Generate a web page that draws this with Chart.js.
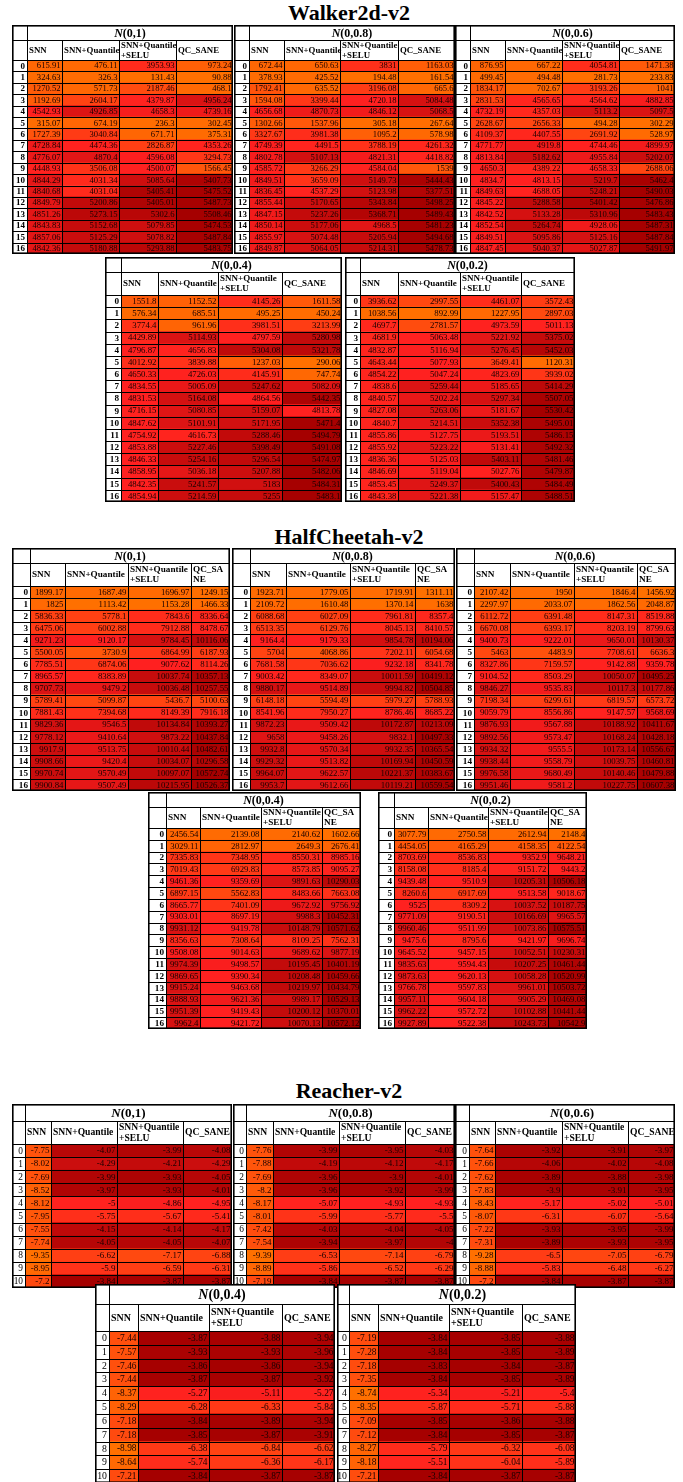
<!DOCTYPE html>
<html>
<head>
<meta charset="utf-8">
<script src="https://cdn.jsdelivr.net/npm/chart.js@4.4.0/dist/chart.umd.min.js"></script>
<style>
html, body { margin: 0; padding: 0; background: #fff; overflow: hidden; }
#page { position: relative; width: 683px; height: 1482px; overflow: hidden; }
.title { position: absolute; left: 0; width: 698px; text-align: center; font: bold 22px 'Liberation Serif', serif; line-height: 22px; color: #000; }
.tbl { position: absolute; }
</style>
</head>
<body>
<div id="page"></div>
<script>
// row labels
const rows17 = ['0','1','2','3','4','5','6','7','8','9','10','11','12','13','14','15','16'];
const rows11 = ['0','1','2','3','4','5','6','7','8','9','10'];
const noiseLabels = ['(0,1)', '(0,0.8)', '(0,0.6)', '(0,0.4)', '(0,0.2)'];

// Walker2d-v2
const walker_1_snn  = [615.91, 324.63, 1270.52, 1192.69, 4542.93, 315.07, 1727.39, 4728.84, 4776.07, 4448.93, 4844.29, 4840.68, 4849.79, 4851.26, 4843.83, 4857.06, 4842.36];
const walker_1_q    = [476.11, 326.3, 571.73, 2604.17, 4926.85, 674.19, 3040.84, 4474.36, 4870.4, 3506.08, 4031.34, 4031.04, 5200.86, 5273.15, 5152.68, 5125.29, 5180.88];
const walker_1_selu = [3953.93, 131.43, 2187.46, 4379.87, 4658.3, 236.3, 671.71, 2826.87, 4596.08, 4500.07, 5085.64, 5405.41, 5405.01, 5302.6, 5079.85, 5078.82, 5293.88];
const walker_1_qc   = [973.24, 90.88, 468.1, 4956.24, 4739.16, 302.45, 375.31, 4353.26, 3294.73, 1566.45, 5407.73, 5475.52, 5487.73, 5508.46, 5474.53, 5487.84, 5483.75];

const walker_08_snn  = [672.44, 378.93, 1792.41, 1594.08, 4656.68, 1302.66, 3327.67, 4749.39, 4802.78, 4585.72, 4849.51, 4836.45, 4855.44, 4847.15, 4850.14, 4855.97, 4849.87];
const walker_08_q    = [650.63, 425.52, 635.52, 3399.44, 4870.73, 1537.96, 3981.38, 4491.5, 5107.13, 3266.29, 3659.09, 4537.29, 5170.65, 5237.26, 5177.06, 5074.48, 5064.05];
const walker_08_selu = [3831, 194.48, 3196.08, 4720.18, 4846.12, 305.18, 1095.2, 3788.19, 4821.31, 4584.04, 5149.73, 5123.98, 5343.84, 5368.71, 4968.5, 5205.94, 5214.31];
const walker_08_qc   = [1163.03, 161.54, 665.6, 5084.48, 5068.5, 267.64, 578.98, 4261.32, 4418.82, 1539, 5444.43, 5377.51, 5498.25, 5489.43, 5481.23, 5494.68, 5478.73];

const walker_06_snn  = [876.95, 499.45, 1834.17, 2831.53, 4732.19, 2628.67, 4109.37, 4771.77, 4813.84, 4650.3, 4834.7, 4849.63, 4845.22, 4842.52, 4852.54, 4849.51, 4847.45];
const walker_06_q    = [667.22, 494.48, 702.67, 4565.65, 4357.03, 2656.33, 4407.55, 4919.8, 5182.62, 4389.22, 4813.15, 4688.05, 5288.58, 5133.28, 5264.74, 5095.86, 5040.37];
const walker_06_selu = [4054.81, 281.73, 3193.26, 4564.62, 5113.2, 494.28, 2691.92, 4744.46, 4955.84, 4658.33, 5219.7, 5248.21, 5401.42, 5310.96, 4928.06, 5125.16, 5027.87];
const walker_06_qc   = [1471.38, 233.83, 1041, 4882.85, 5097.5, 302.29, 528.97, 4899.97, 5202.07, 2688.06, 5462.4, 5490.03, 5476.86, 5483.43, 5487.31, 5487.84, 5491.97];

const walker_04_snn  = [1551.8, 576.34, 3774.4, 4429.89, 4796.87, 4012.92, 4650.33, 4834.55, 4831.53, 4716.15, 4847.62, 4754.92, 4853.88, 4846.33, 4858.95, 4842.35, 4854.94];
const walker_04_q    = [1152.52, 685.51, 961.96, 5114.93, 4656.83, 3839.88, 4726.03, 5005.09, 5164.08, 5080.85, 5101.91, 4616.73, 5227.46, 5254.16, 5036.18, 5241.57, 5214.59];
const walker_04_selu = [4145.26, 495.25, 3981.51, 4797.59, 5304.08, 1237.03, 4145.91, 5247.62, 4864.56, 5159.07, 5171.95, 5288.46, 5398.49, 5296.54, 5207.88, 5183, 5255];
const walker_04_qc   = [1611.58, 450.24, 3213.99, 5280.98, 5321.78, 290.06, 747.74, 5082.09, 5442.35, 4813.78, 5471.4, 5494.79, 5491.08, 5474.97, 5482.06, 5484.31, 5483.1];

const walker_02_snn  = [3936.62, 1038.56, 4697.7, 4681.9, 4832.87, 4643.44, 4854.22, 4838.6, 4840.57, 4827.08, 4840.7, 4855.86, 4855.92, 4836.36, 4846.69, 4853.45, 4843.38];
const walker_02_q    = [2997.55, 892.99, 2781.57, 5063.48, 5116.94, 5077.93, 5047.24, 5259.44, 5202.24, 5263.06, 5214.51, 5127.75, 5223.22, 5125.03, 5119.04, 5249.37, 5221.38];
const walker_02_selu = [4461.07, 1227.95, 4973.59, 5221.92, 5276.45, 3649.41, 4823.69, 5185.65, 5297.34, 5181.67, 5352.38, 5193.51, 5131.41, 5403.11, 5027.76, 5400.43, 5157.47];
const walker_02_qc   = [3572.43, 2897.03, 5011.13, 5375.02, 5452.03, 1120.31, 3939.02, 5414.29, 5507.05, 5530.42, 5495.01, 5486.15, 5492.32, 5481.46, 5479.87, 5484.49, 5488.51];

// HalfCheetah-v2
const cheetah_1_snn  = [1899.17, 1825, 5836.33, 6475.06, 9271.23, 5500.05, 7785.51, 8965.57, 9707.73, 5789.41, 7881.43, 9829.36, 9778.12, 9917.9, 9908.66, 9970.74, 9900.84];
const cheetah_1_q    = [1687.49, 1113.42, 5778.1, 6002.88, 9120.17, 3730.9, 6874.06, 8383.89, 9479.2, 5099.87, 7394.68, 9546.5, 9410.64, 9513.75, 9420.4, 9570.49, 9507.49];
const cheetah_1_selu = [1696.97, 1153.28, 7843.6, 7912.88, 9784.45, 6864.99, 9077.62, 10037.74, 10036.48, 5436.7, 8149.39, 10134.84, 9873.22, 10010.44, 10034.07, 10097.07, 10215.95];
const cheetah_1_qc   = [1249.15, 1466.33, 8336.64, 8478.67, 10116.06, 6187.93, 8114.26, 10357.13, 10257.55, 5100.63, 7916.18, 10393.27, 10437.84, 10482.61, 10296.58, 10572.74, 10526.37];

const cheetah_08_snn  = [1923.71, 2109.72, 6088.68, 6513.35, 9164.4, 5704, 7681.58, 9003.42, 9880.17, 6148.18, 8541.96, 9872.23, 9658, 9932.8, 9929.32, 9964.07, 9953.7];
const cheetah_08_q    = [1779.05, 1610.48, 6027.09, 6129.76, 9179.33, 4068.86, 7036.62, 8349.07, 9514.89, 5594.49, 7950.27, 9509.42, 9458.26, 9570.34, 9513.82, 9622.57, 9612.66];
const cheetah_08_selu = [1719.91, 1370.14, 7961.81, 8045.13, 9854.78, 7202.11, 9232.18, 10011.59, 9994.82, 5979.27, 8786.46, 10172.87, 9832.1, 9932.35, 10169.94, 10221.37, 10119.21];
const cheetah_08_qc   = [1311.11, 1638, 8357.4, 8410.57, 10194.06, 6054.68, 8341.78, 10419.12, 10504.85, 5788.93, 8685.22, 10213.09, 10497.33, 10365.54, 10450.59, 10383.67, 10559.54];

const cheetah_06_snn  = [2107.42, 2297.97, 6112.72, 6670.08, 9400.73, 5463, 8327.86, 9104.52, 9846.27, 7198.34, 9059.79, 9876.93, 9892.56, 9934.32, 9938.44, 9976.58, 9951.46];
const cheetah_06_q    = [1950, 2033.07, 6391.48, 6393.17, 9222.01, 4483.9, 7159.57, 8503.29, 9535.83, 6299.61, 8556.86, 9567.88, 9573.47, 9555.5, 9558.79, 9680.49, 9581.2];
const cheetah_06_selu = [1846.4, 1862.56, 8147.31, 8203.19, 9650.01, 7708.61, 9142.88, 10050.07, 10117.3, 6819.57, 9147.57, 10188.92, 10168.24, 10173.14, 10039.75, 10140.46, 10227.75];
const cheetah_06_qc   = [1456.92, 2048.87, 8519.88, 8799.63, 10130.37, 6636.3, 9359.78, 10495.25, 10177.86, 6573.72, 9568.69, 10411.67, 10428.18, 10556.67, 10460.81, 10479.88, 10607.38];

const cheetah_04_snn  = [2456.54, 3029.11, 7335.83, 7019.43, 9461.36, 6897.15, 8665.77, 9303.01, 9931.12, 8356.63, 9508.08, 9974.39, 9869.65, 9915.24, 9888.93, 9951.39, 9962.4];
const cheetah_04_q    = [2139.08, 2812.97, 7348.95, 6929.83, 9359.69, 5562.83, 7401.09, 8697.19, 9419.78, 7308.64, 9014.63, 9498.57, 9390.34, 9463.68, 9621.36, 9419.43, 9421.72];
const cheetah_04_selu = [2140.62, 2649.3, 8550.31, 8573.85, 9891.63, 8483.66, 9672.92, 9988.3, 10148.79, 8109.25, 9689.62, 10195.45, 10208.48, 10219.97, 9989.17, 10200.12, 10070.13];
const cheetah_04_qc   = [1602.66, 2676.41, 8985.16, 9095.27, 10290.03, 7663.08, 9756.92, 10452.31, 10571.62, 7562.31, 9877.19, 10401.19, 10459.66, 10434.79, 10529.13, 10370.01, 10572.12];

const cheetah_02_snn  = [3077.79, 4454.05, 8703.69, 8158.08, 9439.48, 8260.6, 9525, 9771.09, 9960.46, 9475.6, 9645.52, 9835.63, 9873.63, 9766.78, 9957.11, 9962.22, 9927.89];
const cheetah_02_q    = [2750.58, 4165.29, 8536.83, 8185.4, 9510.9, 6917.69, 8309.2, 9190.51, 9511.99, 8795.6, 9457.15, 9594.43, 9620.13, 9597.83, 9604.18, 9572.72, 9522.38];
const cheetah_02_selu = [2612.94, 4158.35, 9352.9, 9151.72, 10205.31, 9513.58, 10037.52, 10166.69, 10073.86, 9421.97, 10052.51, 10207.25, 10058.28, 9961.01, 9905.29, 10102.88, 10243.73];
const cheetah_02_qc   = [2148.4, 4122.54, 9648.21, 9443.2, 10506.18, 9018.67, 10187.75, 9965.57, 10575.51, 9696.74, 10230.31, 10461.44, 10520.99, 10503.72, 10469.08, 10441.44, 10542.9];

// Reacher-v2
const reacher_1_snn  = [-7.75, -8.02, -7.69, -8.52, -8.12, -7.95, -7.55, -7.74, -9.35, -8.95, -7.2];
const reacher_1_q    = [-4.07, -4.29, -3.99, -3.97, -5, -5.75, -4.15, -4.05, -6.62, -5.9, -3.84];
const reacher_1_selu = [-3.99, -4.21, -3.93, -3.93, -4.86, -5.67, -4.14, -4.05, -7.17, -6.59, -3.87];
const reacher_1_qc   = [-4.08, -4.29, -4.05, -4.01, -4.95, -5.41, -4.17, -4.07, -6.88, -6.31, -3.87];

const reacher_08_snn  = [-7.76, -7.88, -7.69, -8.2, -8.17, -8.01, -7.42, -7.54, -9.39, -8.89, -7.19];
const reacher_08_q    = [-3.99, -4.19, -3.96, -3.96, -5.07, -5.99, -4.03, -3.94, -6.53, -5.86, -3.84];
const reacher_08_selu = [-3.95, -4.12, -3.9, -3.92, -4.93, -5.77, -4.04, -3.97, -7.14, -6.52, -3.87];
const reacher_08_qc   = [-4.03, -4.17, -4.01, -3.99, -4.93, -5.5, -4.05, -4, -6.79, -6.29, -3.87];

const reacher_06_snn  = [-7.64, -7.66, -7.62, -7.83, -8.43, -8.07, -7.22, -7.31, -9.28, -8.88, -7.2];
const reacher_06_q    = [-3.92, -4.06, -3.89, -3.9, -5.17, -6.31, -3.93, -3.89, -6.5, -5.83, -3.84];
const reacher_06_selu = [-3.91, -4.02, -3.88, -3.91, -5.02, -6.07, -3.95, -3.93, -7.05, -6.48, -3.87];
const reacher_06_qc   = [-3.97, -4.08, -3.98, -3.95, -5.01, -5.64, -3.99, -3.95, -6.79, -6.27, -3.87];

const reacher_04_snn  = [-7.44, -7.57, -7.46, -7.44, -8.37, -8.29, -7.18, -7.18, -8.98, -8.64, -7.21];
const reacher_04_q    = [-3.87, -3.93, -3.86, -3.87, -5.27, -6.28, -3.84, -3.85, -6.38, -5.74, -3.84];
const reacher_04_selu = [-3.88, -3.93, -3.86, -3.87, -5.11, -6.33, -3.89, -3.87, -6.84, -6.36, -3.87];
const reacher_04_qc   = [-3.94, -3.96, -3.94, -3.92, -5.27, -5.84, -3.94, -3.91, -6.62, -6.17, -3.87];

const reacher_02_snn  = [-7.19, -7.28, -7.18, -7.35, -8.74, -8.35, -7.09, -7.12, -8.27, -8.18, -7.21];
const reacher_02_q    = [-3.84, -3.84, -3.83, -3.84, -5.34, -5.87, -3.85, -3.84, -5.79, -5.51, -3.84];
const reacher_02_selu = [-3.85, -3.85, -3.84, -3.85, -5.21, -5.71, -3.86, -3.85, -6.32, -6.04, -3.87];
const reacher_02_qc   = [-3.88, -3.89, -3.87, -3.89, -5.4, -5.88, -3.88, -3.87, -6.08, -5.89, -3.87];

// column headers
const headsA = [['SNN'], ['SNN+Quantile'], ['SNN+Quantile', '+SELU'], ['QC_SANE']];
const headsB = [['SNN'], ['SNN+Quantile'], ['SNN+Quantile', '+SELU'], ['QC_SA', 'NE']];

// layout: group settings + per table box
const walkerTop    = { top: 25,   nH: 15, hH: 20, nFont: 12, hFont: 8.8, font: 8.6, idxBold: true };
const walkerBot    = { top: 257,  nH: 15, hH: 23, nFont: 12, hFont: 9,   font: 8.8, idxBold: true };
const cheetahTop   = { top: 548,  nH: 15, hH: 23, nFont: 12, hFont: 9.2, font: 8.8, idxBold: true };
const cheetahBot   = { top: 792,  nH: 15, hH: 21, nFont: 12, hFont: 9.2, font: 8.8, idxBold: true };
const reacherTop   = { top: 1104, nH: 17, hH: 23, nFont: 13, hFont: 9.6, font: 9,   idxBold: false };
const reacherBot   = { top: 1284, nH: 20, hH: 27, nFont: 14, hFont: 10,  font: 9.4, idxBold: false };

const tables = [
  { g: walkerTop, left: 12,  idxW: 15, colW: [35, 57, 57, 57], n: 0, heads: headsA, rows: rows17, cols: [walker_1_snn, walker_1_q, walker_1_selu, walker_1_qc] },
  { g: walkerTop, left: 234, idxW: 15, colW: [35, 56, 58, 57], n: 1, heads: headsA, rows: rows17, cols: [walker_08_snn, walker_08_q, walker_08_selu, walker_08_qc] },
  { g: walkerTop, left: 455, idxW: 15, colW: [35, 57, 57, 56], n: 2, heads: headsA, rows: rows17, cols: [walker_06_snn, walker_06_q, walker_06_selu, walker_06_qc] },
  { g: walkerBot, left: 105, idxW: 16, colW: [37, 60, 64, 60], n: 3, heads: headsA, rows: rows17, cols: [walker_04_snn, walker_04_q, walker_04_selu, walker_04_qc] },
  { g: walkerBot, left: 345, idxW: 15, colW: [38, 62, 61, 54], n: 4, heads: headsA, rows: rows17, cols: [walker_02_snn, walker_02_q, walker_02_selu, walker_02_qc] },

  { g: cheetahTop, left: 12,  idxW: 18, colW: [35, 63, 63, 39], n: 0, heads: headsB, rows: rows17, cols: [cheetah_1_snn, cheetah_1_q, cheetah_1_selu, cheetah_1_qc] },
  { g: cheetahTop, left: 232, idxW: 18, colW: [36, 64, 65, 40], n: 1, heads: headsB, rows: rows17, cols: [cheetah_08_snn, cheetah_08_q, cheetah_08_selu, cheetah_08_qc] },
  { g: cheetahTop, left: 456, idxW: 18, colW: [36, 64, 63, 39], n: 2, heads: headsB, rows: rows17, cols: [cheetah_06_snn, cheetah_06_q, cheetah_06_selu, cheetah_06_qc] },
  { g: cheetahBot, left: 148, idxW: 18, colW: [34, 61, 61, 39], n: 3, heads: headsB, rows: rows17, cols: [cheetah_04_snn, cheetah_04_q, cheetah_04_selu, cheetah_04_qc] },
  { g: cheetahBot, left: 378, idxW: 16, colW: [34, 60, 60, 39], n: 4, heads: headsB, rows: rows17, cols: [cheetah_02_snn, cheetah_02_q, cheetah_02_selu, cheetah_02_qc] },

  { g: reacherTop, left: 12,  idxW: 13, colW: [26, 66, 66, 49], n: 0, heads: headsA, rows: rows11, cols: [reacher_1_snn, reacher_1_q, reacher_1_selu, reacher_1_qc] },
  { g: reacherTop, left: 233, idxW: 13, colW: [27, 66, 66, 50], n: 1, heads: headsA, rows: rows11, cols: [reacher_08_snn, reacher_08_q, reacher_08_selu, reacher_08_qc] },
  { g: reacherTop, left: 455, idxW: 14, colW: [26, 67, 66, 47], n: 2, heads: headsA, rows: rows11, cols: [reacher_06_snn, reacher_06_q, reacher_06_selu, reacher_06_qc] },
  { g: reacherBot, left: 95,  idxW: 14, colW: [29, 71, 73, 53], n: 3, heads: headsA, rows: rows11, cols: [reacher_04_snn, reacher_04_q, reacher_04_selu, reacher_04_qc] },
  { g: reacherBot, left: 337, idxW: 12, colW: [29, 71, 73, 54], n: 4, heads: headsA, rows: rows11, cols: [reacher_02_snn, reacher_02_q, reacher_02_selu, reacher_02_qc] }
];

const titles = [
  { text: 'Walker2d-v2',    top: 2 },
  { text: 'HalfCheetah-v2', top: 526 },
  { text: 'Reacher-v2',     top: 1080 }
];

const rowH = { 17: null };
const groupRowH = new Map([[walkerTop, 11.4], [walkerBot, 12.2], [cheetahTop, 12.06], [cheetahBot, 11.8], [reacherTop, 13.05], [reacherBot, 13.8]]);

// orange -> red -> dark red, midpoint at the median of the table
function heat(v, lo, mid, hi) {
  const A = [255, 112, 0], B = [255, 32, 32], C = [165, 0, 0];
  let a, b, t;
  if (v <= mid) { a = A; b = B; t = mid > lo ? (v - lo) / (mid - lo) : 1; }
  else { a = B; b = C; t = hi > mid ? (v - mid) / (hi - mid) : 1; }
  return 'rgb(' + a.map((c, k) => Math.round(c + (b[k] - c) * t)).join(',') + ')';
}

const tablePlugin = {
  id: 'tablePlugin',
  afterDatasetsDraw(chart, args, opts) {
    const ctx = chart.ctx;
    const g = opts.g;
    const { left, top, right, bottom } = chart.chartArea;
    const xs = chart.scales.x, ys = chart.scales.y;
    const W = chart.width, H = chart.height;
    const nRows = chart.data.labels.length;
    const rh = (bottom - top) / nRows;

    ctx.save();
    ctx.fillStyle = '#fff';
    ctx.fillRect(0, 0, W, top);
    ctx.fillRect(0, top, left, bottom - top);

    // values
    ctx.font = g.font + "px 'Liberation Serif'";
    ctx.fillStyle = '#1a0000';
    ctx.textAlign = 'right';
    ctx.textBaseline = 'middle';
    chart.data.datasets.forEach((ds, di) => {
      chart.getDatasetMeta(di).data.forEach((el, i) => {
        ctx.fillText(String(ds.data[i].v), Math.max(el.x, el.base) - 1.5, el.y + 0.5);
      });
    });

    // row index
    ctx.fillStyle = '#000';
    ctx.font = (g.idxBold ? 'bold ' : '') + (g.font + 0.4) + "px 'Liberation Serif'";
    chart.data.labels.forEach((lab, i) => {
      ctx.fillText(lab, left - 2, ys.getPixelForValue(i) + 0.5);
    });

    // column edges
    const edges = [0];
    opts.colW.forEach(w => edges.push(edges[edges.length - 1] + w));
    const px = edges.map(e => xs.getPixelForValue(e));

    // headers
    ctx.textAlign = 'left';
    ctx.font = 'bold ' + g.hFont + "px 'Liberation Serif'";
    const hy0 = g.nH, hy1 = top;
    opts.heads.forEach((lines, j) => {
      const lh = g.hFont * 1.1;
      const cy = (hy0 + hy1) / 2 - (lines.length - 1) * lh / 2;
      lines.forEach((s, k) => ctx.fillText(s, px[j] + 2, cy + k * lh + 0.5));
    });

    // N(...) label
    const nPart = 'N', rest = opts.noise;
    ctx.font = 'italic bold ' + g.nFont + "px 'Liberation Serif'";
    const wN = ctx.measureText(nPart).width;
    ctx.font = 'bold ' + g.nFont + "px 'Liberation Serif'";
    const wR = ctx.measureText(rest).width;
    const cx = (left + right) / 2 - (wN + wR) / 2;
    ctx.font = 'italic bold ' + g.nFont + "px 'Liberation Serif'";
    ctx.fillText(nPart, cx, g.nH / 2 + 1);
    ctx.font = 'bold ' + g.nFont + "px 'Liberation Serif'";
    ctx.fillText(rest, cx + wN, g.nH / 2 + 1);

    // grid
    ctx.strokeStyle = '#000';
    ctx.lineWidth = 1;
    const r = v => Math.round(v) + 0.5;
    ctx.beginPath();
    ctx.moveTo(0, r(g.nH)); ctx.lineTo(W, r(g.nH));
    for (let i = 0; i <= nRows; i++) {
      const y = top + i * rh;
      ctx.moveTo(0, r(y)); ctx.lineTo(W, r(y));
    }
    ctx.moveTo(r(left), 0); ctx.lineTo(r(left), H);
    px.slice(1, -1).forEach(x => { ctx.moveTo(r(x), g.nH); ctx.lineTo(r(x), H); });
    ctx.stroke();
    ctx.lineWidth = 1.6;
    ctx.strokeRect(0.8, 0.8, W - 1.6, H - 1.6);
    ctx.restore();
  }
};

const page = document.getElementById('page');

titles.forEach(t => {
  const d = document.createElement('div');
  d.className = 'title';
  d.style.top = t.top + 'px';
  d.textContent = t.text;
  page.appendChild(d);
});

tables.forEach(t => {
  const g = t.g;
  const rh = groupRowH.get(g);
  const width = t.idxW + t.colW.reduce((a, b) => a + b, 0);
  const height = Math.round(g.nH + g.hH + rh * t.rows.length);
  const box = document.createElement('div');
  box.className = 'tbl';
  box.style.left = t.left + 'px';
  box.style.top = g.top + 'px';
  const canvas = document.createElement('canvas');
  canvas.width = width;
  canvas.height = height;
  box.appendChild(canvas);
  page.appendChild(box);

  const all = t.cols.flat().slice().sort((a, b) => a - b);
  const lo = all[0], hi = all[all.length - 1];
  const m = all.length;
  const mid = m % 2 ? all[(m - 1) / 2] : (all[m / 2 - 1] + all[m / 2]) / 2;

  new Chart(canvas.getContext('2d'), {
    type: 'bar',
    data: {
      labels: t.rows,
      datasets: t.cols.map((vals, j) => ({
        data: vals.map((v, i) => ({ x: t.colW[j], y: t.rows[i], v: v })),
        backgroundColor: c => heat(c.raw.v, lo, mid, hi),
        borderWidth: 0,
        barPercentage: 1,
        categoryPercentage: 1
      }))
    },
    options: {
      indexAxis: 'y',
      responsive: false,
      animation: false,
      events: [],
      layout: { padding: { top: g.nH + g.hH, left: t.idxW, right: 0, bottom: 0 } },
      scales: {
        x: { stacked: true, min: 0, max: width - t.idxW, display: false },
        y: { stacked: true, display: false, offset: true }
      },
      plugins: {
        legend: { display: false },
        tooltip: { enabled: false },
        tablePlugin: { g: g, colW: t.colW, heads: t.heads, noise: noiseLabels[t.n] }
      }
    },
    plugins: [tablePlugin]
  });
});
</script>
</body>
</html>
